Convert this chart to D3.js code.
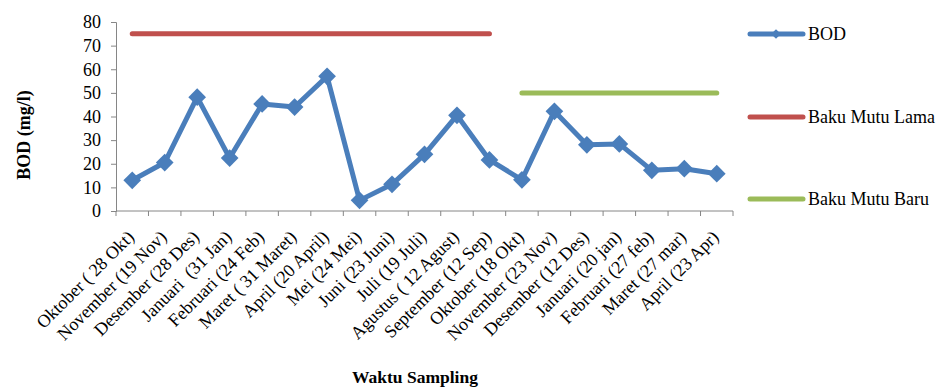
<!DOCTYPE html>
<html>
<head>
<meta charset="utf-8">
<script src="https://cdn.jsdelivr.net/npm/d3@7"></script>
<style>
  body { margin: 0; background: #fff; }
</style>
</head>
<body>
<svg id="chart" width="939" height="387"></svg>
<script>
// data
const categories = [
  "Oktober ( 28 Okt)", "November (19 Nov)", "Desember (28 Des)", "Januari  (31 Jan)",
  "Februari (24 Feb)", "Maret ( 31 Maret)", "April (20 April)", "Mei (24 Mei)",
  "Juni (23 Juni)", "Juli (19 Juli)", "Agustus ( 12 Agust)", "September (12 Sep)",
  "Oktober (18 Okt)", "November (23 Nov)", "Desember (12 Des)", "Januari (20 jan)",
  "Februari (27 feb)", "Maret (27 mar)", "April (23 Apr)"
];
const bod = [13, 20.5, 48.2, 22.4, 45.3, 44, 57, 4.5, 11.3, 24, 40.5, 21.6, 13.2, 42.2, 28, 28.4, 17.2, 17.9, 15.8];
const bakuLama = [75, 75, 75, 75, 75, 75, 75, 75, 75, 75, 75, 75, null, null, null, null, null, null, null];
const bakuBaru = [null, null, null, null, null, null, null, null, null, null, null, null, 50, 50, 50, 50, 50, 50, 50];
const yTicks = [0, 10, 20, 30, 40, 50, 60, 70, 80];

const colors = { bod: "#4a7ebb", lama: "#c0504d", baru: "#9bbb59" };
const FONT = "Liberation Serif";

const svg = d3.select("#chart");
const mLeft = 116, mRight = 733, mTop = 22, mBottom = 211;

const x = d3.scaleBand().domain(categories).range([mLeft, mRight]);
const y = d3.scaleLinear().domain([0, 80]).range([mBottom, mTop]);
const cx = d => x(d) + x.bandwidth() / 2;

// y axis
const yAxis = svg.append("g")
  .attr("transform", `translate(${mLeft},0)`)
  .call(d3.axisLeft(y).tickValues(yTicks).tickSize(5).tickPadding(10));
yAxis.select(".domain").attr("stroke", "#868686");
yAxis.selectAll(".tick line").attr("stroke", "#868686");
yAxis.selectAll("text")
  .style("font-family", FONT).style("font-size", "18px").attr("fill", "#000");

// x axis with ticks between categories
const xAxis = svg.append("g").attr("transform", `translate(0,${mBottom})`);
xAxis.append("line").attr("x1", mLeft).attr("x2", mRight).attr("stroke", "#868686");
xAxis.selectAll("line.tk")
  .data(d3.range(categories.length + 1))
  .join("line")
  .attr("class", "tk")
  .attr("x1", i => mLeft + i * x.step()).attr("x2", i => mLeft + i * x.step())
  .attr("y1", 0).attr("y2", 5)
  .attr("stroke", "#868686");
xAxis.selectAll("text.lbl")
  .data(categories)
  .join("text")
  .attr("class", "lbl")
  .attr("transform", d => `translate(${cx(d) + 3},27) rotate(-45)`)
  .attr("text-anchor", "end")
  .style("font-family", FONT)
  .style("font-size", "18px")
  .style("white-space", "pre")
  .text(d => d);

// axis titles
svg.append("text")
  .attr("transform", `translate(30,135) rotate(-90)`)
  .attr("text-anchor", "middle")
  .style("font-family", FONT)
  .style("font-size", "18px").style("font-weight", "bold")
  .text("BOD (mg/l)");
svg.append("text")
  .attr("x", 415).attr("y", 383)
  .attr("text-anchor", "middle")
  .style("font-family", FONT)
  .style("font-size", "17.5px").style("font-weight", "bold")
  .text("Waktu Sampling");

// lines
const line = d3.line()
  .defined(d => d.v != null)
  .x(d => cx(d.c))
  .y(d => y(d.v));
const toPts = arr => arr.map((v, i) => ({ c: categories[i], v }));

svg.append("path").datum(toPts(bakuLama))
  .attr("d", line).attr("fill", "none")
  .attr("stroke", colors.lama).attr("stroke-width", 5).attr("stroke-linecap", "round");
svg.append("path").datum(toPts(bakuBaru))
  .attr("d", line).attr("fill", "none")
  .attr("stroke", colors.baru).attr("stroke-width", 5).attr("stroke-linecap", "round");
svg.append("path").datum(toPts(bod))
  .attr("d", line).attr("fill", "none")
  .attr("stroke", colors.bod).attr("stroke-width", 5).attr("stroke-linejoin", "round");

const diamond = d3.symbol().type(d3.symbolDiamond2).size(200);
svg.selectAll("path.mk")
  .data(toPts(bod))
  .join("path")
  .attr("class", "mk")
  .attr("transform", d => `translate(${cx(d.c)},${y(d.v)})`)
  .attr("d", diamond)
  .attr("fill", colors.bod);

// legend
const legend = [
  { name: "BOD", color: colors.bod, marker: true, y: 34 },
  { name: "Baku Mutu Lama", color: colors.lama, marker: false, y: 117 },
  { name: "Baku Mutu Baru", color: colors.baru, marker: false, y: 199 }
];
const lg = svg.selectAll("g.lg").data(legend).join("g")
  .attr("class", "lg")
  .attr("transform", d => `translate(750,${d.y})`);
lg.append("line")
  .attr("x1", 0).attr("x2", 53)
  .attr("stroke", d => d.color).attr("stroke-width", 5).attr("stroke-linecap", "round");
lg.filter(d => d.marker).append("path")
  .attr("transform", "translate(26,0)")
  .attr("d", d3.symbol().type(d3.symbolDiamond2).size(60))
  .attr("fill", d => d.color);
lg.append("text")
  .attr("x", 58).attr("y", 6)
  .style("font-family", FONT)
  .style("font-size", "18px")
  .text(d => d.name);
</script>
</body>
</html>
